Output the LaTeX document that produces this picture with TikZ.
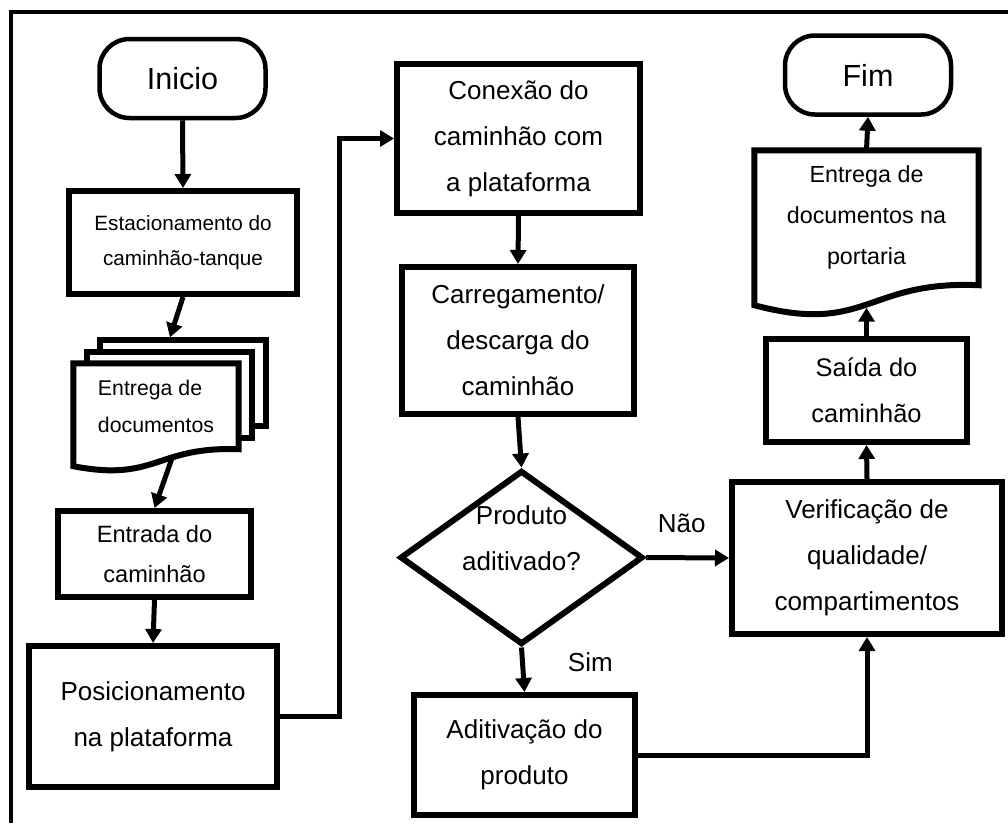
\documentclass[tikz,border=0pt]{standalone}
\usepackage{fontspec}
\setmainfont{Liberation Sans}
\usepackage{tikz}
\usetikzlibrary{arrows.meta}
\usetikzlibrary{calc}
\usetikzlibrary{positioning}
\usetikzlibrary{shapes.geometric}
\usetikzlibrary{backgrounds}

\begin{document}
\begin{tikzpicture}[
  x=1pt, y=-1pt,
	terminal/.style={
	draw,
	rectangle,
	rounded corners=30pt,
	line width=4.5pt,
	inner sep=0pt,
	minimum width=166pt,
	minimum height=79pt,
	font=\fontsize{30.5}{36}\selectfont},
	block/.style={
	draw,
	rectangle,
	line width=6pt,
	inner sep=0pt,
	align=center,
	font=\fontsize{26}{46}\selectfont},
	decision/.style={
	draw,
	diamond,
	line width=6pt,
	inner sep=0pt,
	minimum width=243pt,
	minimum height=174pt},
	docnode/.style={
	rectangle,
	inner sep=0pt},
	sheet/.style={
	draw,
	fill=white,
	line width=6pt},
	answer/.style={
	inner sep=0pt,
	font=\fontsize{26}{30}\selectfont},
  arrow1/.style={
  line width=5pt,
  -{Triangle[length=14pt, width=16pt]}
  }]

	\useasboundingbox (0,0) rectangle (1008,823);

	% Frame
	\draw[line width=4pt] (10.5,823) -- (10.5,11.5) -- (1008,11.5);

	% Left column
	\node [terminal] at (182.5,78.5) (inicio) {Inicio};
	\node [block, minimum width=228pt, minimum height=103pt, font=\fontsize{20.7}{35}\selectfont] at (183,242.5) (estac) {Estacionamento do\\caminhão-tanque};
	\node [docnode, minimum width=165pt, minimum height=85.5pt, align=left, font=\fontsize{21.3}{37}\selectfont] at (156,406.25) (docs) {Entrega de\\documentos};
	\node [block, minimum width=193pt, minimum height=86pt, font=\fontsize{23.6}{39.5}\selectfont] at (154.5,554) (entrada) {Entrada do\\caminhão};
	\node [block, minimum width=248pt, minimum height=141pt] at (153,716.5) (posic) {Posicionamento\\na plataforma};

	% Middle column
	\node [block, minimum width=243pt, minimum height=149pt] at (518.5,138.5) (conexao) {Conexão do\\caminhão com\\a plataforma};
	\node [block, minimum width=232pt, minimum height=147pt] at (518,340.5) (carreg) {Carregamento/\\descarga do\\caminhão};
	\node [decision, label={[inner sep=0pt, align=center, font=\fontsize{26}{46}\selectfont, yshift=19.5pt]center:Produto\\aditivado?}] at (521.5,557.5) (produto) {};
	\node [block, minimum width=221pt, minimum height=120pt] at (524.5,755) (aditiv) {Aditivação do\\produto};

	% Right column
	\node [block, minimum width=270pt, minimum height=152pt] at (867,558) (verif) {Verificação de\\qualidade/\\compartimentos};
	\node [block, minimum width=201pt, minimum height=103pt, font=\fontsize{25.4}{46}\selectfont] at (866.5,390.5) (saida) {Saída do\\caminhão};
	\node [docnode, minimum width=224pt, minimum height=134.5pt, align=center, font=\fontsize{23.3}{41}\selectfont] at (866.5,217.75) (portaria) {Entrega de\\documentos na\\portaria};
	\node [terminal] at (868,75) (fim) {Fim};

	% Document sheets
	\begin{scope}[on background layer]
	\draw[sheet] ($(docs.north west)+(27,-23)$) rectangle ($(docs.south east)+(27,-23)$);
	\draw[sheet] ($(docs.north west)+(13.5,-11.5)$) rectangle ($(docs.south east)+(13.5,-11.5)$);
	\draw[sheet] (docs.north west) -- (docs.north east) -- (docs.south east) .. controls ($(docs.south)+(0,-3)$) and ($(docs.south)+(0,33)$) .. ($(docs.south west)+(0,17)$) -- cycle;
	\draw[sheet] (portaria.north west) -- (portaria.north east) -- (portaria.south east) .. controls ($(portaria.south)+(0,-5)$) and ($(portaria.south)+(0,50)$) .. ($(portaria.south west)+(0,20)$) -- cycle;
	\end{scope}

	\coordinate (docstop) at ($(docs.north)+(14,-26)$);
	\coordinate (docsbot) at ($(docs.south)+(16,9)$);
	\coordinate (portbot) at ($(portaria.south)+(0,22.5)$);

	% Flow
	\draw[arrow1] (inicio.south) -- (estac.north);
	\draw[arrow1] (estac.south) -- (docstop);
	\draw[arrow1] (docsbot) -- (entrada.north);
	\draw[arrow1] (entrada.south) -- (posic.north);
	\draw[arrow1] (posic.east) -- ++(59.5,0) |- (conexao.west);
	\draw[arrow1] (conexao.south) -- (carreg.north);
	\draw[arrow1] (carreg.south) -- (produto.north);
	\draw[arrow1] (produto.east) -- node[answer, pos=0.43, above=22pt] {Não} (verif.west);
	\draw[arrow1] (produto.south) -- node[answer, pos=0.33, right=43pt] {Sim} (aditiv.north);
	\draw[arrow1] (aditiv.east) -| (verif.south);
	\draw[arrow1] (verif.north) -- (saida.south);
	\draw[arrow1] (saida.north) -- (portbot);
	\draw[arrow1] (portaria.north) -- (fim.south);

\end{tikzpicture}
\end{document}
